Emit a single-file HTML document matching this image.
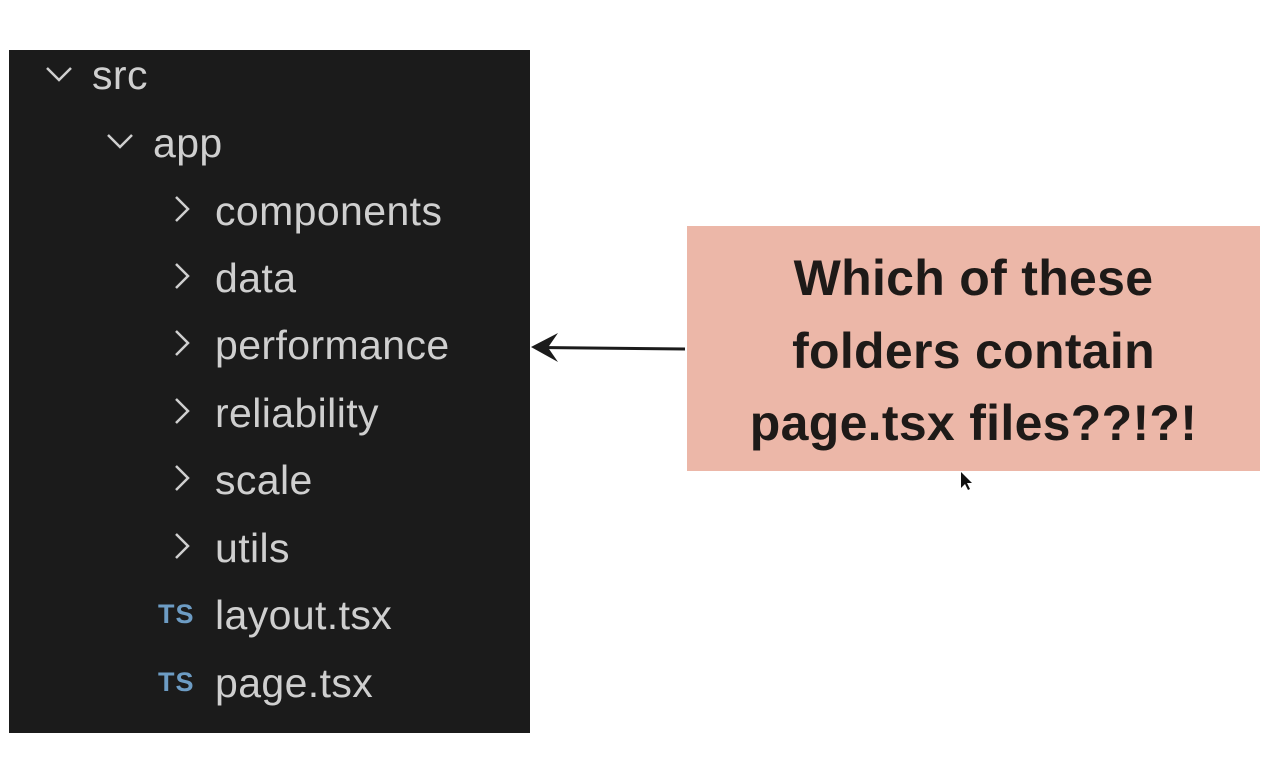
<!DOCTYPE html>
<html><head><style>
body{margin:0;width:1274px;height:760px;background:#fff;position:relative;overflow:hidden;font-family:"Liberation Sans",sans-serif}
#panel{position:absolute;left:9px;top:50px;width:521px;height:683px;background:#1b1b1b}
.row{position:absolute;height:40px;line-height:40px;font-size:41px;color:#cfcfcf;letter-spacing:0.4px;white-space:nowrap}
.ts{position:absolute;font-size:27px;font-weight:bold;color:#6d9cc4;line-height:40px;letter-spacing:1px}
#box{position:absolute;left:687px;top:226px;width:573px;height:245px;background:#ecb7a8}
.q{position:absolute;left:0;width:573px;text-align:center;font-size:50px;font-weight:bold;color:#1e1a18;line-height:56px;letter-spacing:0.3px}
</style></head><body>
<div id="panel"></div>
<svg style="position:absolute;left:0;top:0" width="1274" height="760">
<g fill="none" stroke="#cfcfcf" stroke-width="2.5">
<polyline points="47,68 59,80 71,68"/>
<polyline points="108,135 120,147 132,135"/>
<polyline points="176,197 188,209 176,221"/>
<polyline points="176,264 188,276 176,288"/>
<polyline points="176,331 188,343 176,355"/>
<polyline points="176,399 188,411 176,423"/>
<polyline points="176,466 188,478 176,490"/>
<polyline points="176,534 188,546 176,558"/>
</g>
<line x1="685" y1="349" x2="540" y2="347.5" stroke="#1b1b1b" stroke-width="3"/>
<path d="M531,347 L558,333 L548,347.5 L558,362 Z" fill="#1b1b1b"/>
<path d="M961,472 l0,16 l4,-4 l3,6 l2,-1 l-3,-6 l5,0 z" fill="#111"/>
</svg>
<div class="row" style="left:92px;top:55px">src</div>
<div class="row" style="left:153px;top:123px">app</div>
<div class="row" style="left:215px;top:191px">components</div>
<div class="row" style="left:215px;top:258px">data</div>
<div class="row" style="left:215px;top:325px">performance</div>
<div class="row" style="left:215px;top:393px">reliability</div>
<div class="row" style="left:215px;top:460px">scale</div>
<div class="row" style="left:215px;top:528px">utils</div>
<div class="ts" style="left:158px;top:594px">TS</div>
<div class="row" style="left:215px;top:595px">layout.tsx</div>
<div class="ts" style="left:158px;top:662px">TS</div>
<div class="row" style="left:215px;top:663px">page.tsx</div>
<div id="box">
<div class="q" style="top:24px">Which of these</div>
<div class="q" style="top:97px">folders contain</div>
<div class="q" style="top:169px">page.tsx files??!?!</div>
</div>
</body></html>
